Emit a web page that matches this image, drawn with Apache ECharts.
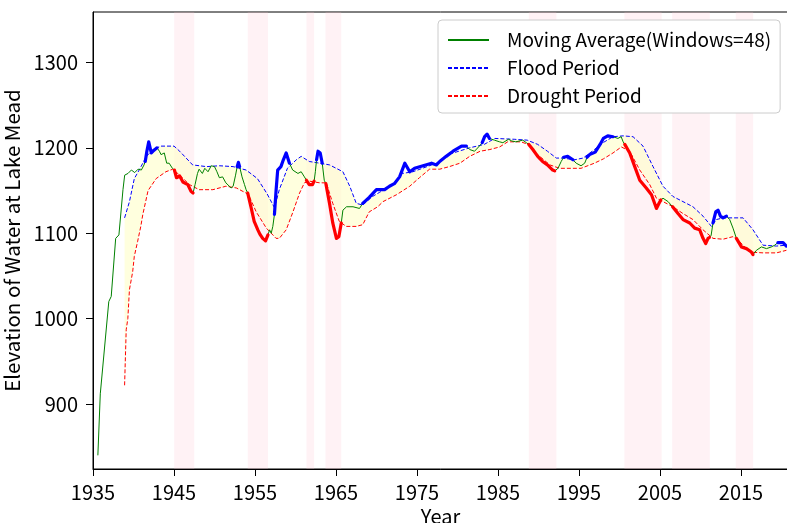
<!DOCTYPE html>
<html>
<head>
<meta charset="utf-8">
<script src="https://cdn.jsdelivr.net/npm/echarts@6/dist/echarts.min.js"></script>
<style>html,body{margin:0;padding:0;background:#fff}#chart{width:787px;height:523px}</style>
</head>
<body>
<div id="chart"></div>
<script>
// ---- data ----
const xTickYears = [1935, 1945, 1955, 1965, 1975, 1985, 1995, 2005, 2015];
const yTickValues = [900, 1000, 1100, 1200, 1300];

// water elevation (green line), [year, elevation]
const waterLevel = [
  [1935.6,840],[1935.9,912],[1936.1,914],[1936.95,1020],[1937.25,1026],[1937.8,1094],[1938.2,1098],[1938.7,1151],
  [1938.91,1168],[1939.32,1170],[1939.74,1174],[1940.15,1171],[1940.56,1175],[1940.97,1174],[1941.3,1180],
  [1941.45,1184],[1941.65,1196],[1941.88,1207],[1942.05,1200],[1942.2,1194],[1942.5,1197],[1942.9,1200],
  [1943.2,1196],[1943.4,1192],[1943.8,1194],[1944.1,1182],[1944.4,1182],[1944.8,1176],
  [1945.05,1174],[1945.3,1165],[1945.7,1167],[1946.1,1160],[1946.7,1157],[1947.1,1149],[1947.35,1147],
  [1947.6,1157],[1947.9,1170],[1948.1,1175],[1948.5,1170],[1948.8,1176],[1949.2,1172],[1949.6,1179],[1950.0,1178],
  [1950.3,1172],[1950.6,1165],[1951.0,1166],[1951.4,1159],[1952.05,1153],[1952.3,1155],[1952.6,1168],
  [1952.8,1178],[1952.95,1183],[1953.1,1178],
  [1953.4,1166],[1953.7,1157],[1953.9,1151],
  [1954.1,1147],[1954.5,1131],[1954.9,1114],[1955.35,1104],[1955.6,1099],[1955.95,1094],[1956.3,1091],[1956.6,1098],
  [1956.8,1104],[1957.0,1100],[1957.2,1108],
  [1957.4,1122],[1957.6,1150],[1957.8,1174],[1958.2,1178],[1958.5,1186],[1958.85,1194],[1959.25,1182],
  [1959.65,1174],[1960.3,1170],[1960.7,1172],[1961.1,1166],
  [1961.35,1162],[1961.7,1157],[1962.1,1157],[1962.3,1161],
  [1962.45,1172],
  [1962.6,1186],[1962.78,1196],[1963.05,1194],[1963.3,1182],
  [1963.55,1162],
  [1963.75,1158],[1964.2,1135],[1964.6,1112],[1965.05,1094],[1965.35,1096],[1965.65,1112],
  [1965.85,1127],[1966.3,1131],[1967.1,1131],[1967.9,1129],
  [1968.3,1135],[1969.1,1142],[1969.99,1151],[1971.0,1151],[1971.6,1155],[1972.2,1158],[1972.85,1166],[1973.5,1182],
  [1974.1,1172],[1974.7,1176],[1975.75,1179],[1976.8,1182],[1977.4,1180],[1977.8,1184],[1978.6,1190],[1979.45,1196],
  [1980.5,1202],[1981.1,1202],
  [1981.5,1198],[1982.1,1196],[1982.7,1202],
  [1983.05,1206],[1983.35,1213],[1983.65,1216],[1983.95,1211],
  [1984.55,1209],[1985.2,1207],[1985.6,1206],[1986.3,1210],[1986.7,1208],[1987.2,1207],[1988.05,1209],[1988.5,1206],
  [1988.8,1204],[1989.3,1198],[1989.9,1190],[1990.5,1184],[1991.1,1180],[1991.75,1174],[1992.0,1173],
  [1992.4,1176],[1992.8,1184],
  [1993.1,1189],[1993.6,1190],[1994.25,1186],
  [1994.65,1182],[1995.25,1179],[1995.7,1182],
  [1996.0,1189],[1996.3,1192],[1997.0,1195],[1997.6,1204],[1998.0,1211],[1998.55,1214],[1999.2,1213],
  [1999.8,1211],[2000.2,1213],[2000.45,1207],
  [2000.65,1204],[2001.26,1194],[2001.88,1178],[2002.5,1162],[2003.3,1153],[2003.95,1145],[2004.56,1129],[2004.88,1135],[2005.1,1139],
  [2005.37,1141],[2006.0,1137],
  [2006.55,1131],[2007.22,1123],[2007.84,1116],[2008.67,1112],[2009.28,1106],[2009.9,1104],[2010.31,1094],[2010.64,1088],[2010.93,1094],[2011.1,1095],
  [2011.3,1097],
  [2011.54,1112],[2011.88,1125],[2012.16,1127],[2012.46,1120],[2012.78,1118],[2013.2,1120],
  [2013.6,1116],[2014.01,1106],
  [2014.43,1094],[2015.05,1084],[2015.67,1082],[2016.28,1078],[2016.48,1075],
  [2016.9,1080],[2017.52,1084],[2018.14,1082],[2018.75,1084],[2019.16,1086],
  [2019.55,1089],[2019.78,1090],[2020.19,1089],[2020.6,1085]
];

// upper band (blue dashed)
const floodBand = [
  [1938.9,1118],[1939.5,1137],[1940.1,1164],[1940.7,1174],[1941.6,1190],[1942.4,1198],[1943.4,1202],[1945.0,1202],
  [1945.7,1196],[1946.5,1188],[1947.3,1180],[1949.0,1178],[1950.6,1179],[1952.3,1178],[1953.9,1174],[1955.3,1164],
  [1956.5,1146],[1957.4,1130],[1958.0,1151],[1959.0,1176],[1960.1,1186],[1960.7,1190],[1961.7,1184],[1963.0,1182],
  [1964.2,1180],[1965.85,1172],[1966.7,1155],[1967.5,1135],[1968.3,1133],[1969.5,1143],[1970.4,1148],[1972.0,1157],
  [1973.2,1170],[1974.5,1172],[1977.4,1182],[1978.8,1192],[1981.5,1200],[1983.3,1204],[1984.6,1211],[1987.0,1210],
  [1988.6,1209],[1989.9,1204],[1991.1,1196],[1992.2,1188],[1993.0,1188],[1994.45,1186],[1995.5,1188],[1996.9,1198],
  [1997.96,1206],[1999.2,1213],[2000.43,1214],[2001.67,1213],[2002.9,1202],[2004.14,1178],[2005.37,1155],[2006.6,1143],
  [2007.84,1137],[2009.07,1131],[2010.31,1120],[2011.35,1108],[2011.96,1116],[2012.78,1118],[2015.25,1118],[2016.48,1104],
  [2017.72,1086],[2019.37,1085],[2020.6,1086]
];

// lower band (red dashed)
const droughtBand = [
  [1938.9,922],[1939.1,987],[1939.3,1000],[1939.5,1034],[1939.9,1055],[1940.1,1073],[1940.5,1090],[1940.9,1108],
  [1941.15,1122],[1941.8,1150],[1942.8,1164],[1944.0,1172],[1944.85,1175],[1945.7,1168],[1946.9,1157],[1948.1,1151],
  [1949.8,1151],[1951.4,1155],[1952.7,1153],[1953.9,1147],[1954.3,1143],[1955.15,1125],[1956.4,1106],[1957.6,1094],
  [1958.0,1094],[1958.85,1104],[1959.65,1124],[1960.5,1147],[1961.1,1159],[1961.7,1161],[1963.0,1159],[1963.8,1159],
  [1964.6,1135],[1965.4,1114],[1966.25,1108],[1967.5,1108],[1968.3,1110],[1969.1,1125],[1970.15,1131],[1970.8,1137],
  [1972.45,1145],[1974.1,1155],[1975.3,1165],[1976.55,1175],[1977.8,1175],[1979.0,1178],[1980.3,1182],[1981.5,1190],
  [1982.8,1196],[1984.0,1198],[1985.2,1201],[1986.2,1207],[1987.85,1207],[1988.7,1204],[1989.9,1192],[1991.4,1180],
  [1992.6,1176],[1995.25,1176],[1996.9,1182],[1998.0,1187],[1999.2,1194],[2000.23,1201],[2001.26,1196],[2002.5,1174],
  [2003.73,1157],[2004.56,1141],[2005.37,1137],[2006.6,1131],[2007.84,1123],[2009.07,1116],[2010.31,1104],[2011.54,1094],
  [2012.78,1093],[2014.01,1096],[2014.84,1090],[2016.07,1078],[2017.72,1077],[2019.37,1077],[2020.6,1080]
];

// periods [start, end] in years
const floodPeriods = [
  [1941.4,1942.95],[1952.75,1953.15],[1957.35,1959.4],[1962.55,1963.35],[1968.2,1981.2],
  [1983.0,1984.0],[1993.0,1994.3],[1995.9,1999.3],[2011.5,2013.3],[2019.5,2020.7]
];
const droughtPeriods = [
  [1945.02,1947.5],[1954.1,1956.6],[1961.35,1962.3],[1963.7,1965.65],[1988.8,1992.2],
  [2000.6,2005.2],[2006.5,2011.15],[2014.35,2016.5]
];

// ---- build ----
function segmentsIn(periods) {
  const out = [];
  periods.forEach((p, i) => {
    if (i > 0) out.push([p[0], '-']);
    waterLevel.forEach(d => { if (d[0] >= p[0] && d[0] <= p[1]) out.push(d); });
  });
  return out;
}

const FONT = 'Noto Sans CJK SC';
const chart = echarts.init(document.getElementById('chart'), null, {renderer: 'canvas'});
chart.setOption({
  animation: false,
  backgroundColor: '#ffffff',
  grid: {left: 93, top: 12, right: -1, bottom: 54, show: true, borderColor: '#000', borderWidth: 1,
         backgroundColor: 'transparent', containLabel: false, outerBoundsMode: 'none'},
  legend: {
    orient: 'vertical', left: 438, top: 20,
    padding: [10, 9, 7, 9],
    itemWidth: 41, itemHeight: 14, itemGap: 8,
    backgroundColor: '#ffffff', borderColor: '#cccccc', borderWidth: 1, borderRadius: 4,
    itemStyle: {color: 'transparent', borderColor: 'transparent', borderWidth: 0},
    textStyle: {fontFamily: FONT, fontSize: 19, color: '#000', lineHeight: 20, padding: [0, 0, 0, 13]},
    data: ['Moving Average(Windows=48)', 'Flood Period', 'Drought Period']
  },
  xAxis: {
    type: 'value', min: 1935, max: 2020.8,
    name: 'Year', nameLocation: 'middle', nameGap: 36,
    nameTextStyle: {fontFamily: FONT, fontSize: 20, color: '#000'},
    axisLine: {show: true, onZero: false, lineStyle: {color: '#000', width: 1}},
    axisTick: {show: true, length: 7, inside: false, customValues: xTickYears, lineStyle: {color: '#000'}},
    axisLabel: {customValues: xTickYears, margin: 13, fontFamily: FONT, fontSize: 20, color: '#000',
                formatter: v => String(Math.round(v))},
    splitLine: {show: false}
  },
  yAxis: {
    type: 'value', min: 824, max: 1359,
    name: 'Elevation of Water at Lake Mead', nameLocation: 'middle', nameGap: 53, nameRotate: 90,
    nameTextStyle: {fontFamily: FONT, fontSize: 20.5, color: '#000'},
    axisLine: {show: true, onZero: false, lineStyle: {color: '#000', width: 1}},
    axisTick: {show: true, length: 7, inside: false, customValues: yTickValues, lineStyle: {color: '#000'}},
    axisLabel: {customValues: yTickValues, margin: 15, fontFamily: FONT, fontSize: 20, color: '#000',
                formatter: v => String(Math.round(v))},
    splitLine: {show: false}
  },
  series: [
    {
      name: 'periods', type: 'line', data: [], silent: true, z: 0,
      markArea: {silent: true, itemStyle: {color: 'rgba(255,192,203,0.2)'},
                 data: droughtPeriods.map(p => [{xAxis: p[0]}, {xAxis: p[1]}])}
    },
    {
      name: 'band', type: 'custom', silent: true, z: 1, clip: true,
      data: [floodBand[0]],
      renderItem: function (params, api) {
        const pts = floodBand.map(p => api.coord(p))
          .concat(droughtBand.slice().reverse().map(p => api.coord(p)));
        return {type: 'polygon', shape: {points: pts}, style: {fill: 'rgba(255,255,200,0.6)', stroke: null}};
      }
    },
    {
      name: 'Flood Period', type: 'line', data: floodBand, symbol: 'none', z: 3,
      color: '#0000ff', lineStyle: {color: '#0000ff', width: 1, type: [4, 2]}
    },
    {
      name: 'Drought Period', type: 'line', data: droughtBand, symbol: 'none', z: 3,
      color: '#ff0000', lineStyle: {color: '#ff0000', width: 1, type: [4, 2]}
    },
    {
      name: 'Moving Average(Windows=48)', type: 'line', data: waterLevel, symbol: 'none', z: 4,
      color: '#008000', lineStyle: {color: '#008000', width: 1}
    },
    {
      name: 'floodThick', type: 'line', data: segmentsIn(floodPeriods), symbol: 'none', z: 5,
      connectNulls: false, lineStyle: {color: '#0000ff', width: 3.2, cap: 'round', join: 'round'}
    },
    {
      name: 'droughtThick', type: 'line', data: segmentsIn(droughtPeriods), symbol: 'none', z: 5,
      connectNulls: false, lineStyle: {color: '#ff0000', width: 3.2, cap: 'round', join: 'round'}
    }
  ]
});
</script>
</body>
</html>
